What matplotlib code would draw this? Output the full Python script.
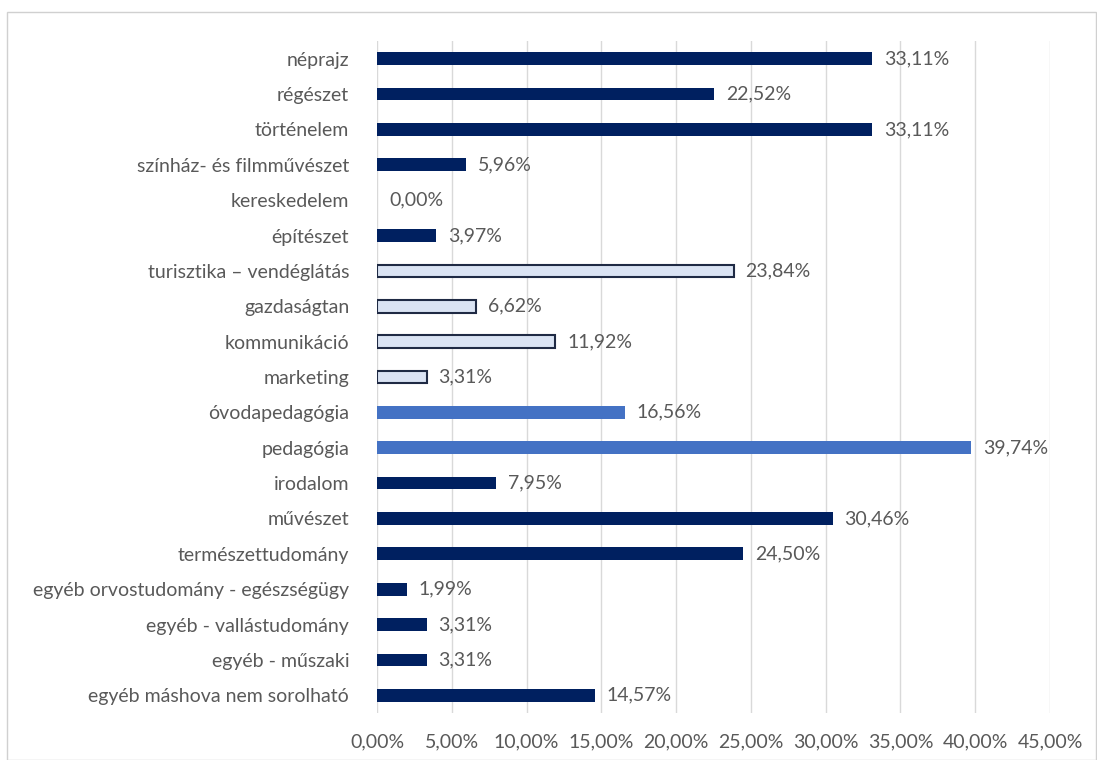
import matplotlib.pyplot as plt
from matplotlib.patches import Rectangle

categories = ['néprajz', 'régészet', 'történelem', 'színház- és filmművészet', 'kereskedelem',
              'építészet', 'turisztika – vendéglátás', 'gazdaságtan', 'kommunikáció', 'marketing',
              'óvodapedagógia', 'pedagógia', 'irodalom', 'művészet', 'természettudomány',
              'egyéb orvostudomány - egészségügy', 'egyéb - vallástudomány', 'egyéb - műszaki',
              'egyéb máshova nem sorolható']
values = [33.11, 22.52, 33.11, 5.96, 0.00, 3.97, 23.84, 6.62, 11.92, 3.31,
          16.56, 39.74, 7.95, 30.46, 24.50, 1.99, 3.31, 3.31, 14.57]
groups = ['dark'] * 6 + ['light'] * 4 + ['mid'] * 2 + ['dark'] * 7
ticks = [0, 5, 10, 15, 20, 25, 30, 35, 40, 45]

fill = {'dark': '#002060', 'light': '#dae3f3', 'mid': '#4472c4'}
edge = {'dark': '#002060', 'light': '#1f2a44', 'mid': '#4472c4'}
gray = '#595959'
fs = 14

plt.rcParams['font.family'] = ['Lato', 'DejaVu Sans']

fig = plt.figure(figsize=(10.97, 7.60), dpi=100)
fig.patches.append(Rectangle((7 / 1097, 0), 1 - 8 / 1097, 1 - 12 / 760, transform=fig.transFigure,
                             fill=False, edgecolor='#d0d0d0', linewidth=1))
ax = fig.add_axes([377 / 1097, 47 / 760, 673 / 1097, 672 / 760])

y = list(range(len(categories)))
for yi, v, g in zip(y, values, groups):
    lw = 1.5 if g == 'light' else 0
    ax.barh(yi, v, height=0.36, color=fill[g], edgecolor=edge[g], linewidth=lw, zorder=3)
    ax.text(v + 0.8, yi, f'{v:.2f}%'.replace('.', ','), va='center', ha='left',
            fontsize=fs, color=gray, zorder=4)

ax.set_ylim(len(categories) - 0.5, -0.5)
ax.set_xlim(0, 45)
ax.set_xticks(ticks)
ax.set_xticklabels([f'{t:.2f}%'.replace('.', ',') for t in ticks])
ax.set_yticks(y)
ax.set_yticklabels(categories)
ax.tick_params(axis='both', length=0, labelsize=fs, colors=gray)
ax.tick_params(axis='x', pad=15)
ax.tick_params(axis='y', pad=20)
ax.grid(axis='x', color='#d9d9d9', linewidth=1, zorder=0)
for s in ax.spines.values():
    s.set_visible(False)

fig.savefig('out.png', dpi=100)
